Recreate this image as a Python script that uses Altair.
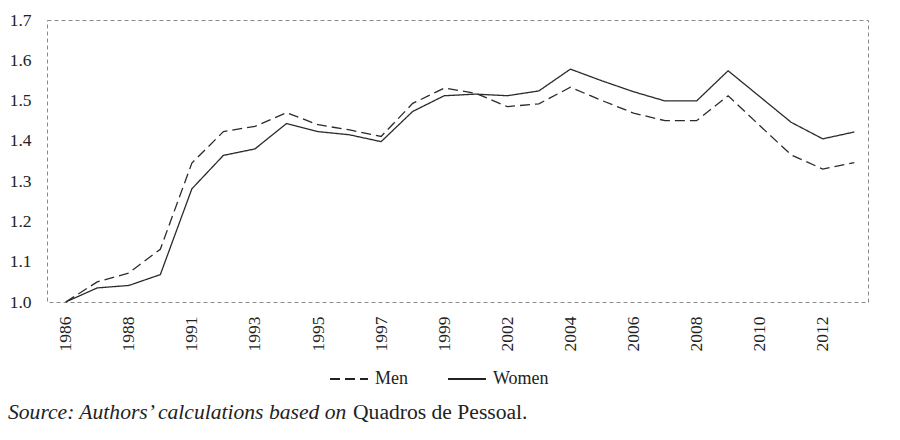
import altair as alt
import pandas as pd

years = ["1986", "1987", "1988", "1989", "1991", "1992", "1993", "1994", "1995",
         "1996", "1997", "1998", "1999", "2000", "2002", "2003", "2004", "2005",
         "2006", "2007", "2008", "2009", "2010", "2011", "2012", "2013"]
men = [1.000, 1.050, 1.072, 1.131, 1.345, 1.423, 1.436, 1.470, 1.440, 1.427,
       1.411, 1.493, 1.531, 1.518, 1.485, 1.492, 1.533, 1.500, 1.469, 1.450,
       1.450, 1.512, 1.438, 1.365, 1.330, 1.346]
women = [1.000, 1.035, 1.041, 1.068, 1.281, 1.364, 1.380, 1.443, 1.423, 1.415,
         1.398, 1.473, 1.512, 1.516, 1.512, 1.524, 1.578, 1.549, 1.522, 1.499,
         1.499, 1.574, 1.510, 1.446, 1.405, 1.422]
x_labels = ["1986", "1988", "1991", "1993", "1995", "1997", "1999", "2002",
            "2004", "2006", "2008", "2010", "2012"]
y_ticks = [1.0, 1.1, 1.2, 1.3, 1.4, 1.5, 1.6, 1.7]
series = ["Men", "Women"]
source_italic = "Source: Authors\u2019 calculations based on"
source_regular = "Quadros de Pessoal."

rows = []
for i, y in enumerate(years):
    rows.append({"year": y, "series": "Men", "value": men[i]})
    rows.append({"year": y, "series": "Women", "value": women[i]})
df = pd.DataFrame(rows)

FONT = "Liberation Serif"
INK = "#222222"

lines = alt.Chart(df).mark_line(strokeWidth=1.3, color="#2b2b2b").encode(
    x=alt.X("year:O", sort=years, title=None,
            scale=alt.Scale(type="point", padding=0, range=[18.7, 807.3]),
            axis=alt.Axis(values=x_labels, labelAngle=-90, ticks=False, domain=False,
                          labelPadding=14, labelFontSize=17.5, labelFont=FONT,
                          labelColor=INK, grid=False)),
    y=alt.Y("value:Q", title=None,
            scale=alt.Scale(domain=[1.0, 1.7], nice=False, zero=False),
            axis=alt.Axis(values=y_ticks, format=".1f", ticks=False, domain=False,
                          labelPadding=16, labelFontSize=17.5, labelFont=FONT,
                          labelColor=INK, grid=False)),
    strokeDash=alt.StrokeDash("series:N",
                              scale=alt.Scale(domain=series, range=[[10, 5], [1, 0]]),
                              legend=alt.Legend(title=None, orient="none", direction="horizontal",
                                                legendX=282, legendY=339,
                                                symbolType="stroke", symbolSize=1444,
                                                symbolStrokeWidth=2, symbolStrokeColor="#222",
                                                labelFont=FONT, labelFontSize=18,
                                                labelColor=INK, labelOffset=6,
                                                columnPadding=36)),
    detail="series:N",
)

src1 = alt.Chart(pd.DataFrame({"t": [source_italic]})).mark_text(
    align="left", baseline="alphabetic", font=FONT, fontSize=21.6,
    fontStyle="italic", color=INK
).encode(text="t:N", x=alt.value(-39), y=alt.value(399))

src2 = alt.Chart(pd.DataFrame({"t": [source_regular]})).mark_text(
    align="left", baseline="alphabetic", font=FONT, fontSize=21.6, color=INK
).encode(text="t:N", x=alt.value(306), y=alt.value(399))

chart = alt.layer(lines, src1, src2).properties(
    width=821, height=282,
    autosize=alt.AutoSizeParams(type="none"),
    padding={"left": 39, "top": 12, "right": 20, "bottom": 125},
).configure(font=FONT).configure_view(
    stroke="#8a8a8a", strokeDash=[4, 3], strokeWidth=1
)

chart.save("out.html", embed_options={"renderer": "svg", "actions": False})
